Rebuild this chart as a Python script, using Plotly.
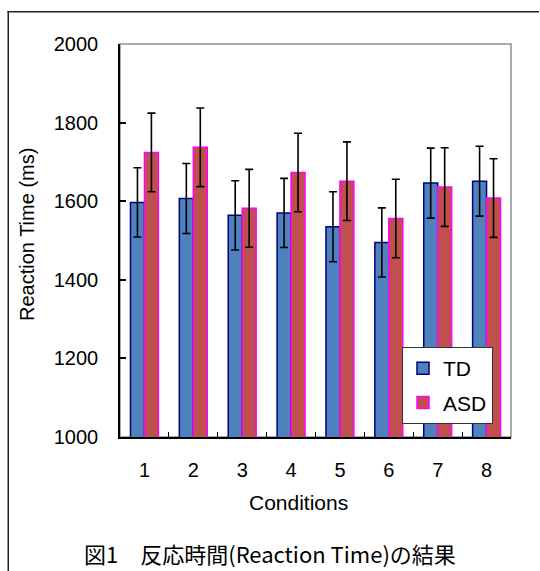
import plotly.graph_objects as go

conditions = ["1", "2", "3", "4", "5", "6", "7", "8"]
td_mean = [1597, 1607, 1564, 1570, 1535, 1495, 1646, 1651]
td_err = [88, 89, 88, 88, 89, 88, 89, 89]
asd_mean = [1724, 1737, 1582, 1673, 1651, 1556, 1636, 1608]
asd_err = [100, 100, 99, 100, 100, 100, 100, 100]

W, H = 540, 571
L, R, T, B = 120, 29, 44, 134
pw, ph = W - L - R, H - T - B

def px_x(x):
    return (x - L) / pw

def px_y(y):
    return (H - B - y) / ph

FONT = "Liberation Sans, Arial, Noto Sans CJK JP, sans-serif"

fig = go.Figure()
fig.add_trace(go.Bar(
    x=conditions, y=td_mean, name="TD", legendgroup="td",
    marker=dict(color="#4F81BD", line=dict(color="#000080", width=1.5)),
    error_y=dict(type="data", array=td_err, color="black", thickness=1.6, width=4),
))
fig.add_trace(go.Bar(
    x=conditions, y=asd_mean, name="ASD", legendgroup="asd",
    marker=dict(color="#C0504D", line=dict(color="#FF00FF", width=1.5)),
    error_y=dict(type="data", array=asd_err, color="black", thickness=1.6, width=4),
))

fig.update_layout(
    width=W, height=H,
    margin=dict(l=L, r=R, t=T, b=B, pad=0),
    paper_bgcolor="white", plot_bgcolor="white",
    barmode="group", bargap=0.4286, bargroupgap=0,
    font=dict(family=FONT, size=20, color="black"),
    showlegend=True,
    legend=dict(
        x=px_x(402), y=px_y(347), xanchor="left", yanchor="top",
        bgcolor="white", bordercolor="#333333", borderwidth=1,
        font=dict(size=21), traceorder="grouped", tracegroupgap=4,
        itemwidth=30,
    ),
    xaxis=dict(
        type="category", showline=True, linecolor="black", linewidth=1.5,
        ticks="inside", ticklen=5, tickcolor="black", tickwidth=1,
        tickson="boundaries", showgrid=False, zeroline=False,
        ticklabelstandoff=14,
    ),
    yaxis=dict(
        range=[1000, 2000], dtick=200, showline=True, linecolor="black", linewidth=1.5,
        ticks="inside", ticklen=6, tickcolor="black", tickwidth=1.5,
        showgrid=False, zeroline=False, ticklabelstandoff=16,
    ),
    shapes=[
        dict(type="rect", xref="paper", yref="paper", x0=0, x1=1, y0=0, y1=1,
             line=dict(color="#909090", width=1.5), layer="below"),
        dict(type="rect", xref="paper", yref="paper", x0=px_x(7.5), x1=px_x(539),
             y0=px_y(12.5), y1=px_y(11), line=dict(width=0),
             fillcolor="#222222", layer="above"),
        dict(type="rect", xref="paper", yref="paper", x0=px_x(7.5), x1=px_x(9),
             y0=px_y(571), y1=px_y(11), line=dict(width=0),
             fillcolor="#222222", layer="above"),
    ],
    annotations=[
        dict(text="Reaction Time (ms)", xref="paper", yref="paper",
             x=px_x(27), y=px_y(235), textangle=-90, showarrow=False,
             xanchor="center", yanchor="middle", font=dict(size=20)),
        dict(text="Conditions", xref="paper", yref="paper",
             x=px_x(298), y=px_y(502), showarrow=False,
             xanchor="center", yanchor="middle", font=dict(size=21)),
        dict(text="図1　反応時間(Reaction Time)の結果", xref="paper", yref="paper",
             x=px_x(270), y=px_y(553), showarrow=False,
             xanchor="center", yanchor="middle",
             font=dict(size=22, family="Noto Sans CJK JP, sans-serif")),
    ],
)

fig.write_html("out.html", config={"displayModeBar": False},
               post_script="document.body.style.margin='0px';")
